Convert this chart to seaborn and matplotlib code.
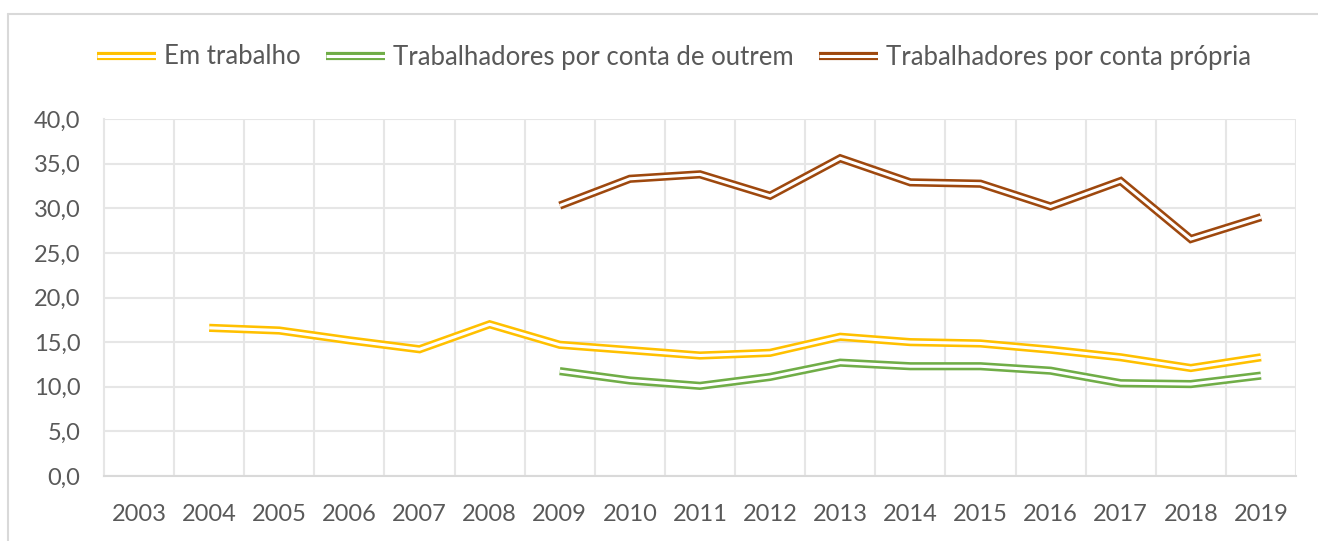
import matplotlib
matplotlib.use("Agg")
import matplotlib.pyplot as plt
import matplotlib.lines as mlines
from matplotlib.ticker import MultipleLocator, FuncFormatter
from matplotlib.legend_handler import HandlerTuple
import seaborn as sns
import pandas as pd

# data
years_all = list(range(2003, 2020))

years_em = list(range(2004, 2020))
em_trabalho = [16.6, 16.3, 15.2, 14.2, 17.0, 14.7, 14.1, 13.5, 13.8, 15.6,
               15.0, 14.85, 14.15, 13.3, 12.1, 13.3]

years_tco = list(range(2009, 2020))
conta_outrem = [11.75, 10.7, 10.1, 11.1, 12.7, 12.3, 12.3, 11.8, 10.4, 10.3, 11.25]

years_tcp = list(range(2009, 2020))
conta_propria = [30.3, 33.3, 33.8, 31.4, 35.6, 32.9, 32.75, 30.2, 33.05, 26.55, 29.0]

labels = ["Em trabalho", "Trabalhadores por conta de outrem",
          "Trabalhadores por conta própria"]
colors = ["#FFC000", "#70AD47", "#9E480E"]

sns.set_style("white")
plt.rcParams['font.family'] = ['Lato', 'DejaVu Sans']

TEXT = "#595959"
GRID = "#E6E6E6"
OUTER_LW = 5.9
INNER_LW = 2.2

fig = plt.figure(figsize=(13.18, 5.41), dpi=100)
ax = fig.add_axes([104 / 1318, 1 - 476 / 541, (1296 - 104) / 1318, (476 - 119) / 541])

series = [(years_em, em_trabalho), (years_tco, conta_outrem), (years_tcp, conta_propria)]
handles = []
for (yrs, vals), lab, col in zip(series, labels, colors):
    df = pd.DataFrame({"Ano": yrs, "Valor": vals})
    # Excel style double line: thick coloured line with a thin white core
    sns.lineplot(data=df, x="Ano", y="Valor", ax=ax, color=col, linewidth=OUTER_LW,
                 solid_capstyle='butt', solid_joinstyle='miter', zorder=3)
    sns.lineplot(data=df, x="Ano", y="Valor", ax=ax, color="white", linewidth=INNER_LW,
                 solid_capstyle='butt', solid_joinstyle='miter', zorder=4)
    outer = mlines.Line2D([], [], color=col, linewidth=OUTER_LW, solid_capstyle='butt')
    inner = mlines.Line2D([], [], color="white", linewidth=INNER_LW, solid_capstyle='butt')
    handles.append((outer, inner))

ax.set_xlim(years_all[0] - 0.5, years_all[-1] + 0.5)
ax.set_ylim(0, 40)
ax.set_xticks(years_all)
ax.set_xticks([y + 0.5 for y in years_all], minor=True)
ax.yaxis.set_major_locator(MultipleLocator(5))
ax.yaxis.set_major_formatter(FuncFormatter(lambda v, p: f"{v:.1f}".replace(".", ",")))

ax.grid(True, axis='y', color=GRID, linewidth=1.5)
ax.grid(True, axis='x', which='minor', color=GRID, linewidth=1.5)
ax.grid(False, axis='x', which='major')
ax.set_axisbelow(True)

for side in ['top', 'right']:
    ax.spines[side].set_visible(False)
ax.spines['left'].set_color(GRID)
ax.spines['left'].set_linewidth(1.5)
ax.spines['bottom'].set_color("#D9D9D9")
ax.spines['bottom'].set_linewidth(1.5)

ax.tick_params(axis='both', which='both', length=0, labelsize=17, colors=TEXT)
ax.tick_params(axis='y', pad=17)
ax.tick_params(axis='x', pad=20)
ax.set_xlabel("")
ax.set_ylabel("")
if ax.get_legend() is not None:
    ax.get_legend().remove()

fig.legend(handles=handles, labels=labels, loc='center', bbox_to_anchor=(674 / 1318, 1 - 57 / 541),
           ncol=3, frameon=False, fontsize=18.5, labelcolor=TEXT, handlelength=2.3,
           handletextpad=0.3, columnspacing=1.0,
           handler_map={tuple: HandlerTuple(ndivide=1, pad=0)})

# outer chart border (cut at the right and bottom)
fig.add_artist(mlines.Line2D([8 / 1318, 1.0], [1 - 14 / 541] * 2, color="#D9D9D9",
                             linewidth=1.5, transform=fig.transFigure))
fig.add_artist(mlines.Line2D([8 / 1318] * 2, [0.0, 1 - 14 / 541], color="#D9D9D9",
                             linewidth=1.5, transform=fig.transFigure))

plt.savefig("out.png", dpi=100)
